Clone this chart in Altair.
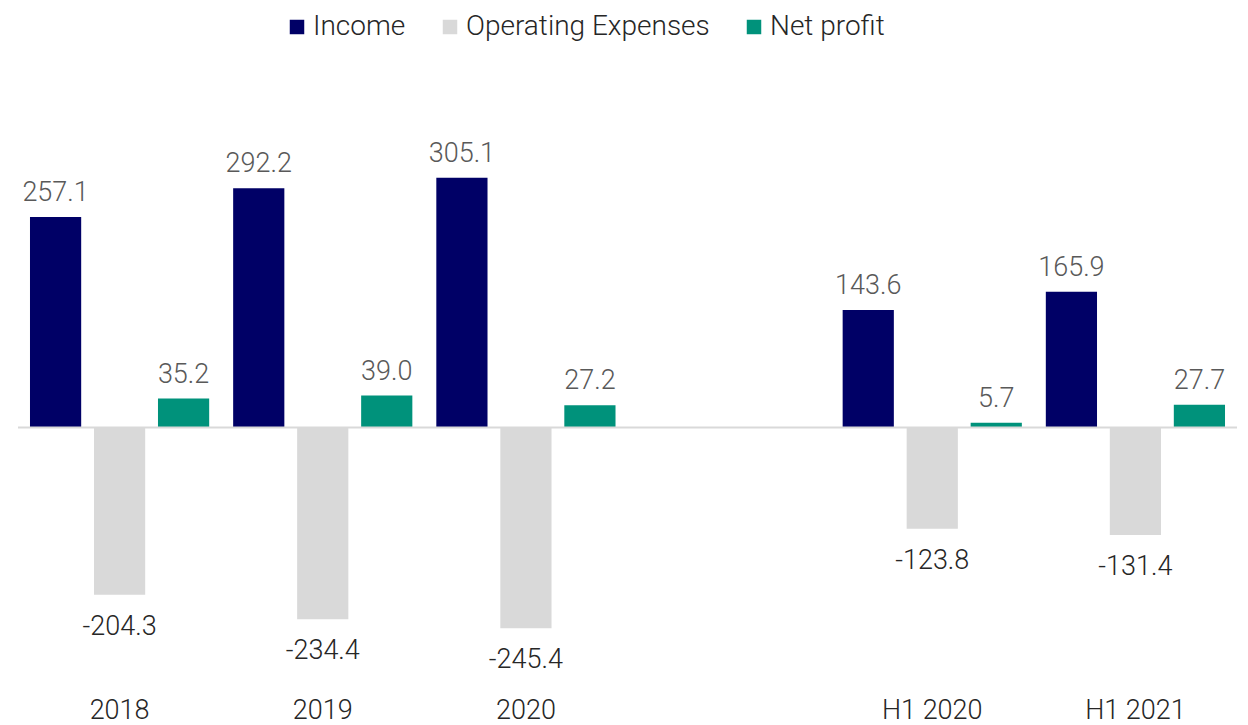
import altair as alt
import pandas as pd

categories = ["2018", "2019", "2020", " ", "H1 2020", "H1 2021"]
data_categories = ["2018", "2019", "2020", "H1 2020", "H1 2021"]
series = ["Income", "Operating Expenses", "Net profit"]
income = [257.1, 292.2, 305.1, 143.6, 165.9]
opex = [-204.3, -234.4, -245.4, -123.8, -131.4]
net_profit = [35.2, 39.0, 27.2, 5.7, 27.7]
colors = ["#000066", "#D9D9D9", "#00927B"]

rows = []
for i, c in enumerate(data_categories):
    for s, vals in zip(series, [income, opex, net_profit]):
        rows.append({"cat": c, "series": s, "value": vals[i], "label": f"{vals[i]:.1f}"})
df = pd.DataFrame(rows)

FONT = "Roboto"

x_enc = alt.X("cat:N", sort=categories,
              scale=alt.Scale(domain=categories, paddingInner=0.118, paddingOuter=0.059),
              axis=alt.Axis(title=None, orient="bottom", domain=False, ticks=False,
                            labelAngle=0, labelFont=FONT, labelFontSize=27, labelFontWeight=300,
                            labelColor="#262626", labelPadding=24))
xoff = alt.XOffset("series:N", sort=series, scale=alt.Scale(domain=series, paddingInner=0.2, paddingOuter=0))
y_scale = alt.Scale(domain=[-300, 400], nice=False, zero=False)

base = alt.Chart(df)

bars = base.mark_bar().encode(
    x=x_enc,
    xOffset=xoff,
    y=alt.Y("value:Q", scale=y_scale, axis=None),
    color=alt.Color("series:N", sort=series,
                    scale=alt.Scale(domain=series, range=colors),
                    legend=alt.Legend(title=None, orient="none", direction="horizontal",
                                      legendX=265, legendY=-87, symbolType="square",
                                      symbolSize=210, symbolStrokeWidth=0,
                                      labelFont=FONT, labelFontSize=28, labelFontWeight=300,
                                      labelColor="#262626", columnPadding=30, labelOffset=2,
                                      labelLimit=0, padding=0)),
)

pos_text = base.transform_filter(alt.datum.value >= 0).mark_text(
    baseline="alphabetic", dy=-16, font=FONT, fontSize=27, fontWeight=300, color="#595959"
).encode(x=alt.X("cat:N", sort=categories), xOffset=xoff, y=alt.Y("value:Q", scale=y_scale), text="label:N")

neg_text = base.transform_filter(alt.datum.value < 0).mark_text(
    baseline="top", dy=19, font=FONT, fontSize=27, fontWeight=300, color="#262626"
).encode(x=alt.X("cat:N", sort=categories), xOffset=xoff, y=alt.Y("value:Q", scale=y_scale), text="label:N")

zero = alt.Chart(pd.DataFrame({"v": [0]})).mark_rule(color="#D9D9D9", strokeWidth=2).encode(
    y=alt.Y("v:Q", scale=y_scale)
)

chart = alt.layer(bars, zero, pos_text, neg_text).properties(
    width=1219, height=573,
    autosize=alt.AutoSizeParams(type="none"),
    padding={"left": 10, "top": 92, "right": 0, "bottom": 52},
).configure_view(stroke=None)

chart.save("out.html", embed_options={"renderer": "svg", "actions": False})
